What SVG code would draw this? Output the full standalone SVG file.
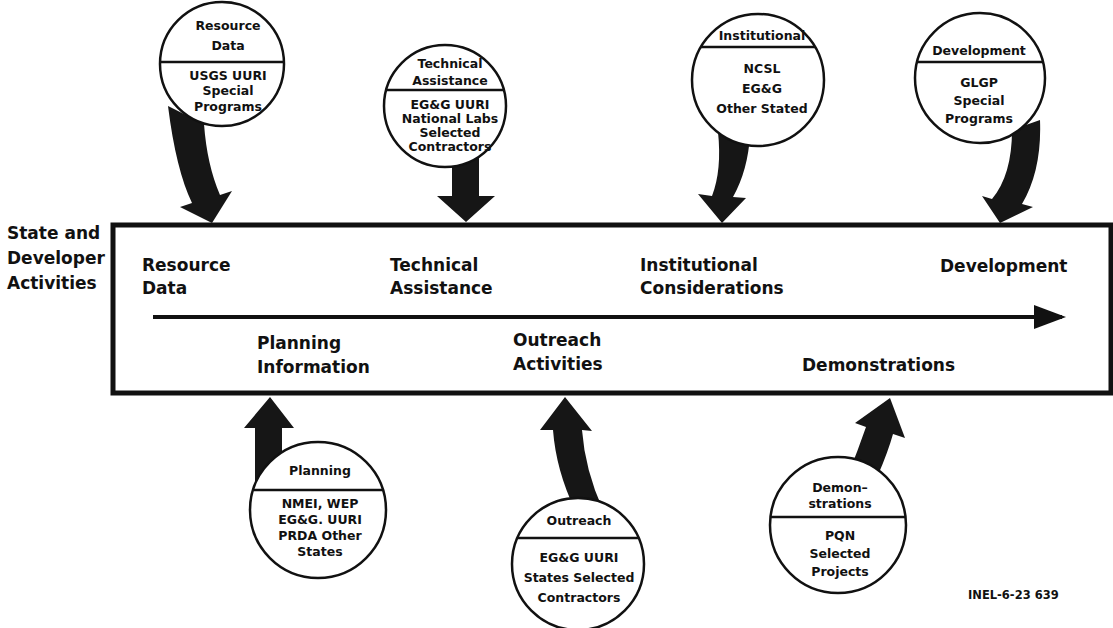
<svg xmlns="http://www.w3.org/2000/svg" width="1113" height="628" viewBox="0 0 1113 628">
<style>
.lbl{font-family:"DejaVu Sans","Liberation Sans",sans-serif;font-weight:bold;font-size:17px;fill:#111}
.ct{font-family:"DejaVu Sans","Liberation Sans",sans-serif;font-weight:bold;font-size:12.5px;fill:#111;text-anchor:middle}
.circ{fill:#fff;stroke:#111;stroke-width:2.5}
.div{stroke:#111;stroke-width:2.5}
.arr{fill:#161616}
.box{fill:none;stroke:#111;stroke-width:5}
</style>
<defs>
<marker id="ah" markerWidth="8" markerHeight="6" refX="7" refY="3" orient="auto" markerUnits="strokeWidth">
<path d="M0,0 L8,3 L0,6 Z" fill="#111"/>
</marker>
</defs>
<rect width="1113" height="628" fill="#fff"/>

<g id="connectors">
<path class="arr" d="M168,106 Q176,170 192,203 L180,207 L212,223 L232,191 L220,195 Q207,165 204,124 Z"/>
<path class="arr" d="M452,150 L452,196 L437,196 L466,222 L495,196 L479,196 L479,150 Z"/>
<path class="arr" d="M718,132 Q722,170 712,196 L698,194 L722,223 L746,198 L733,197 Q748,170 750,135 Z"/>
<path class="arr" d="M1012,130 Q1012,175 992,199 L982,196 L1000,223 L1033,207 L1022,204 Q1042,170 1040,120 Z"/>
<path class="arr" d="M255,500 L255,428 L244,428 L270,397 L294,428 L282,428 L282,500 Z"/>
<path class="arr" d="M553,430 Q556,470 575,510 L603,510 Q585,470 582,430 L592,431 L565,397 L540,430 Z"/>
<path class="arr" d="M866,427 Q858,450 848,475 L878,475 Q888,452 893,434 L905,438 L890,398 L855,423 Z"/>
</g>

<g id="main-box">
<rect class="box" x="113" y="225" width="998" height="168"/>
<line x1="153" y1="317" x2="1062" y2="317" stroke="#111" stroke-width="4" marker-end="url(#ah)"/>
<text class="lbl" x="142" y="271">Resource</text>
<text class="lbl" x="142" y="294">Data</text>
<text class="lbl" x="390" y="271">Technical</text>
<text class="lbl" x="390" y="294">Assistance</text>
<text class="lbl" x="640" y="271">Institutional</text>
<text class="lbl" x="640" y="294">Considerations</text>
<text class="lbl" x="940" y="272">Development</text>
<text class="lbl" x="257" y="349">Planning</text>
<text class="lbl" x="257" y="373">Information</text>
<text class="lbl" x="513" y="346">Outreach</text>
<text class="lbl" x="513" y="370">Activities</text>
<text class="lbl" x="802" y="371">Demonstrations</text>
</g>

<g id="side-label">
<text class="lbl" x="7" y="239">State and</text>
<text class="lbl" x="7" y="264">Developer</text>
<text class="lbl" x="7" y="289">Activities</text>
</g>

<g id="node-resource">
<circle class="circ" cx="222" cy="64" r="62"/>
<line class="div" x1="160" y1="62" x2="284" y2="62"/>
<text class="ct" x="228" y="29.5">Resource</text>
<text class="ct" x="228" y="49.5">Data</text>
<text class="ct" x="228" y="79.5">USGS  UURI</text>
<text class="ct" x="228" y="95">Special</text>
<text class="ct" x="228" y="110.5">Programs</text>
</g>

<g id="node-technical">
<circle class="circ" cx="445" cy="106" r="61"/>
<line class="div" x1="386" y1="90" x2="504" y2="90"/>
<text class="ct" x="450" y="67.5">Technical</text>
<text class="ct" x="450" y="84.5">Assistance</text>
<text class="ct" x="450" y="108.5">EG&amp;G UURI</text>
<text class="ct" x="450" y="122.5">National Labs</text>
<text class="ct" x="450" y="136.5">Selected</text>
<text class="ct" x="450" y="150.5">Contractors</text>
</g>

<g id="node-institutional">
<circle class="circ" cx="758" cy="80" r="66"/>
<line class="div" x1="701" y1="47" x2="815" y2="47"/>
<text class="ct" x="762" y="39.5">Institutional</text>
<text class="ct" x="762" y="72.5">NCSL</text>
<text class="ct" x="762" y="92.5">EG&amp;G</text>
<text class="ct" x="762" y="112.5">Other Stated</text>
</g>

<g id="node-development">
<circle class="circ" cx="980" cy="78" r="65"/>
<line class="div" x1="917" y1="62" x2="1043" y2="62"/>
<text class="ct" x="979" y="54.5">Development</text>
<text class="ct" x="979" y="86.5">GLGP</text>
<text class="ct" x="979" y="104.5">Special</text>
<text class="ct" x="979" y="122.5">Programs</text>
</g>

<g id="node-planning">
<circle class="circ" cx="318" cy="510" r="68"/>
<line class="div" x1="253" y1="490" x2="383" y2="490"/>
<text class="ct" x="320" y="474.5">Planning</text>
<text class="ct" x="320" y="507.5">NMEI, WEP</text>
<text class="ct" x="320" y="523.5">EG&amp;G. UURI</text>
<text class="ct" x="320" y="539.5">PRDA Other</text>
<text class="ct" x="320" y="555.5">States</text>
</g>

<g id="node-outreach">
<circle class="circ" cx="578" cy="564" r="66"/>
<line class="div" x1="517" y1="538" x2="639" y2="538"/>
<text class="ct" x="579" y="524.5">Outreach</text>
<text class="ct" x="579" y="561.5">EG&amp;G  UURI</text>
<text class="ct" x="579" y="581.5">States Selected</text>
<text class="ct" x="579" y="601.5">Contractors</text>
</g>

<g id="node-demonstrations">
<circle class="circ" cx="838" cy="525" r="68"/>
<line class="div" x1="771" y1="517" x2="905" y2="517"/>
<text class="ct" x="840" y="491.5">Demon–</text>
<text class="ct" x="840" y="507.5">strations</text>
<text class="ct" x="840" y="539.5">PQN</text>
<text class="ct" x="840" y="557.5">Selected</text>
<text class="ct" x="840" y="575.5">Projects</text>
</g>

<text x="968" y="599" font-family="DejaVu Sans, sans-serif" font-weight="bold" font-size="11.5" fill="#111">INEL-6-23  639</text>
</svg>
